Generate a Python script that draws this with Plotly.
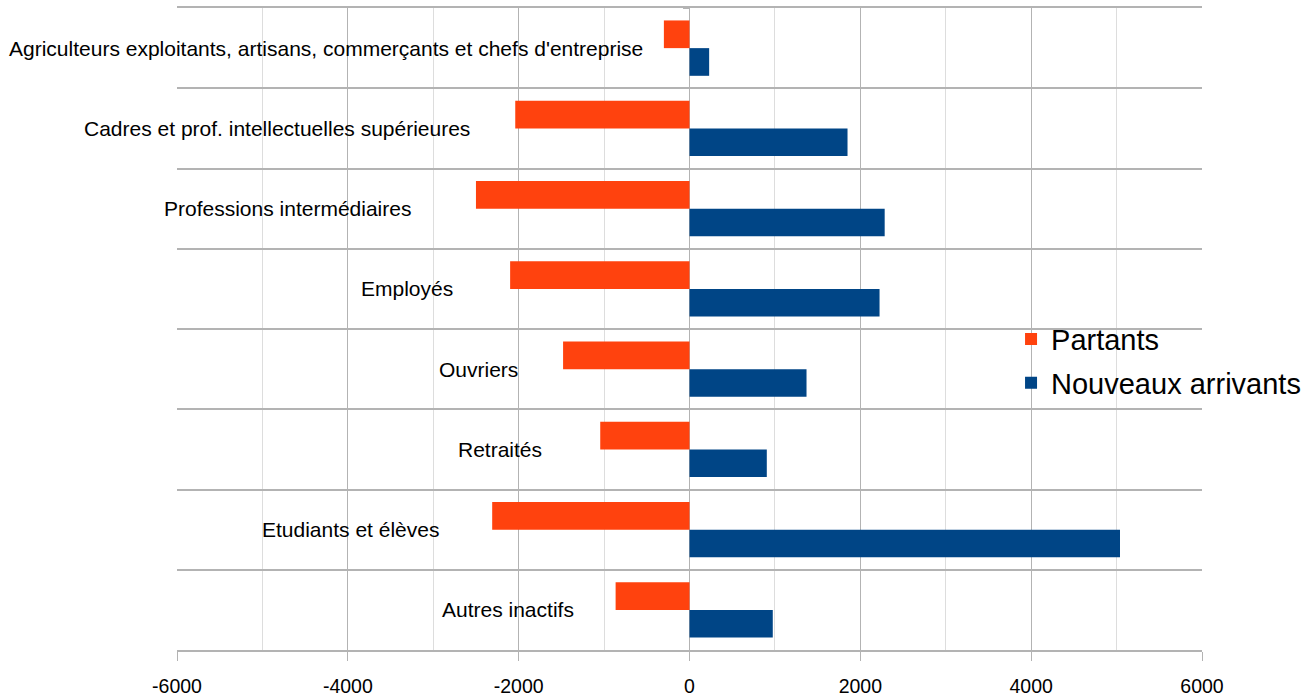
import plotly.graph_objects as go

categories = [
    "Agriculteurs exploitants, artisans, commerçants et chefs d'entreprise",
    "Cadres et prof. intellectuelles supérieures",
    "Professions intermédiaires",
    "Employés",
    "Ouvriers",
    "Retraités",
    "Etudiants et élèves",
    "Autres inactifs",
]
partants = [-300, -2040, -2500, -2100, -1480, -1045, -2310, -865]
nouveaux = [230, 1850, 2285, 2225, 1370, 905, 5040, 975]
x_ticks = [-6000, -4000, -2000, 0, 2000, 4000, 6000]

# layout: right edge of each category label, in x-axis units
label_right = [-516, -2543, -3234, -2742, -1980, -1699, -2906, -1324]

fig = go.Figure()
fig.add_trace(go.Bar(y=categories, x=partants, orientation="h", name="Partants",
                     legendgroup="p",
                     marker=dict(color="#ff420e", line=dict(width=0))))
fig.add_trace(go.Bar(y=categories, x=nouveaux, orientation="h", name="Nouveaux arrivants",
                     legendgroup="n",
                     marker=dict(color="#004586", line=dict(width=0))))

for cat, xr in zip(categories, label_right):
    fig.add_annotation(x=xr, y=cat, text=cat, showarrow=False, xanchor="right",
                       yanchor="middle", font=dict(size=21, color="#000000",
                                                   family="Liberation Sans"))

fig.update_layout(
    width=1304, height=699,
    margin=dict(l=177, r=102, t=8, b=49, autoexpand=False),
    paper_bgcolor="white", plot_bgcolor="white",
    barmode="group", bargap=0.31, bargroupgap=0,
    font=dict(family="Liberation Sans", color="#000000"),
    showlegend=True,
    legend=dict(x=0.8137, y=0.45, xanchor="left", yanchor="middle",
                bgcolor="rgba(0,0,0,0)", font=dict(size=29),
                traceorder="grouped", tracegroupgap=3, itemwidth=30),
    xaxis=dict(range=[-6000, 6000], tickvals=x_ticks,
               ticktext=[str(v) for v in x_ticks],
               showgrid=True, gridcolor="#b3b3b3", gridwidth=1,
               minor=dict(dtick=1000, showgrid=True, gridcolor="#dddddd", gridwidth=1),
               zeroline=False, ticks="outside", ticklen=9, tickcolor="#b3b3b3",
               tickfont=dict(size=19.5), ticklabelstandoff=9,
               showline=True, mirror=True, linecolor="#b3b3b3", linewidth=2),
    yaxis=dict(autorange=False, range=[7.5, -0.5], type="category",
               showticklabels=False, tickson="boundaries",
               showgrid=True, gridcolor="#b3b3b3", gridwidth=2,
               anchor="free", position=0.5,
               ticks="outside", ticklen=7, tickcolor="#b3b3b3", tickwidth=2,
               showline=False, zeroline=False),
)

fig.write_html("out.html", config={"displayModeBar": False},
               post_script="document.body.style.margin='0';")
